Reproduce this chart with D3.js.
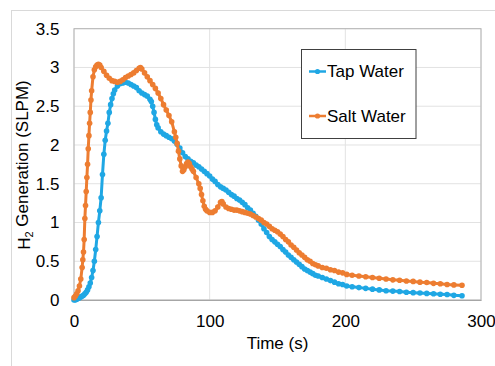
<!DOCTYPE html>
<html>
<head>
<meta charset="utf-8">
<script src="https://cdn.jsdelivr.net/npm/d3@7"></script>
<style>
  body { margin: 0; background: #fff; }
  text { font-family: "Liberation Sans", Arial, sans-serif; fill: #000; }
</style>
</head>
<body>
<div id="chart"></div>
<script>

// series (time in s, H2 in SLPM)
const tapTime = [0,1,2,3,4,5,6,7,8,9,10,11,12,13,14,15,16,17,18,19,20,21,22,23,24,25,26,27,28,29,30,32,34,36,38,40,42,44,46,48,50,52,54,56,57,58,59,60,61,62,64,66,68,70,72,74,76,78,80,82,84,86,88,90,92,94,96,98,100,102,104,106,108,110,112,114,116,118,120,122,124,126,128,130,132,134,136,138,140,142,144,146,148,150,152,154,156,158,160,162,164,166,168,170,172,174,176,178,180,183,186,189,192,195,198,201,205,210,215,220,225,230,235,240,245,250,255,260,265,270,275,280,286];
const tapValue = [0,0,0.01,0.02,0.03,0.04,0.05,0.06,0.08,0.1,0.13,0.17,0.22,0.29,0.38,0.5,0.65,0.82,1.0,1.15,1.32,1.62,1.88,2.06,2.18,2.28,2.42,2.52,2.6,2.66,2.71,2.76,2.79,2.8,2.81,2.8,2.78,2.76,2.74,2.7,2.67,2.65,2.63,2.59,2.56,2.5,2.42,2.33,2.26,2.22,2.17,2.14,2.12,2.1,2.08,2.05,2.01,1.96,1.9,1.85,1.82,1.79,1.77,1.74,1.72,1.69,1.66,1.63,1.6,1.56,1.53,1.49,1.46,1.44,1.42,1.39,1.36,1.34,1.31,1.29,1.26,1.23,1.19,1.16,1.12,1.08,1.03,0.98,0.92,0.87,0.82,0.78,0.75,0.72,0.69,0.65,0.62,0.58,0.55,0.52,0.49,0.46,0.43,0.4,0.38,0.36,0.34,0.32,0.31,0.29,0.27,0.25,0.23,0.21,0.2,0.18,0.17,0.16,0.15,0.14,0.13,0.12,0.115,0.11,0.1,0.095,0.09,0.085,0.08,0.075,0.07,0.06,0.055,0.05,0.04];

const saltTime = [0,1,2,3,4,5,6,6.5,7,7.5,8,8.5,9,9.5,10,10.5,11,11.5,12,12.5,13,14,15,16,17,18,19,20,22,24,26,28,30,32,34,36,38,40,42,44,46,48,49,50,52,54,56,58,60,62,64,66,68,70,72,74,75,76,77,78,79,80,81,82,83,84,85,86,87,88,90,92,93,94,95,96,97,98,100,102,104,106,108,109,110,112,114,116,118,120,122,124,126,128,130,132,134,136,138,140,142,144,146,148,150,152,154,156,158,160,162,164,166,168,170,172,174,176,178,180,183,186,189,192,195,198,201,205,210,215,220,225,230,235,240,245,250,255,260,265,270,275,280,286];
const saltValue = [0.03,0.05,0.08,0.12,0.18,0.27,0.42,0.52,0.62,0.78,1.05,1.22,1.4,1.58,1.75,1.95,2.12,2.28,2.42,2.58,2.7,2.88,2.97,3.01,3.03,3.04,3.03,3.0,2.95,2.9,2.86,2.83,2.82,2.81,2.82,2.84,2.87,2.89,2.91,2.93,2.96,2.99,3.0,2.98,2.93,2.88,2.83,2.78,2.73,2.67,2.6,2.52,2.45,2.38,2.3,2.17,2.1,2.02,1.92,1.82,1.73,1.66,1.68,1.72,1.76,1.78,1.76,1.72,1.69,1.66,1.58,1.5,1.44,1.36,1.28,1.21,1.17,1.15,1.13,1.13,1.15,1.2,1.26,1.27,1.24,1.2,1.18,1.17,1.16,1.16,1.15,1.14,1.13,1.12,1.11,1.09,1.07,1.05,1.03,1.0,0.98,0.95,0.92,0.9,0.88,0.85,0.82,0.78,0.75,0.71,0.68,0.645,0.61,0.58,0.55,0.52,0.5,0.47,0.455,0.44,0.42,0.41,0.39,0.38,0.36,0.35,0.33,0.32,0.31,0.3,0.29,0.28,0.27,0.26,0.255,0.245,0.24,0.23,0.225,0.215,0.21,0.2,0.195,0.19,0.18];

const xTicks = [0, 100, 200, 300];
const yTicks = [0, 0.5, 1, 1.5, 2, 2.5, 3, 3.5];
const seriesNames = ["Tap Water", "Salt Water"];
const seriesColors = ["#1FA7E4", "#ED7D31"];

var plot = { left: 74, top: 28.7, right: 481, bottom: 300 };

var svg = d3.select("#chart")
  .append("svg")
  .attr("width", 495)
  .attr("height", 366);

// chart area border
svg.append("rect")
  .attr("x", 11.5).attr("y", 10.5)
  .attr("width", 495).attr("height", 370)
  .attr("fill", "#fff")
  .attr("stroke", "#d9d9d9");

const x = d3.scaleLinear()
  .domain([0, 300])
  .range([plot.left, plot.right]);

const y = d3.scaleLinear()
  .domain([0, 3.5])
  .range([plot.bottom, plot.top]);

// gridlines
svg.append("g")
  .selectAll("line.h")
  .data(yTicks)
  .enter().append("line")
  .attr("x1", plot.left).attr("x2", plot.right)
  .attr("y1", d => y(d)).attr("y2", d => y(d))
  .attr("stroke", "#e2e2e2");

svg.append("g")
  .selectAll("line.v")
  .data(xTicks)
  .enter().append("line")
  .attr("x1", d => x(d)).attr("x2", d => x(d))
  .attr("y1", plot.top).attr("y2", plot.bottom)
  .attr("stroke", "#e2e2e2");

// plot area border
svg.append("rect")
  .attr("x", plot.left).attr("y", plot.top)
  .attr("width", plot.right - plot.left)
  .attr("height", plot.bottom - plot.top)
  .attr("fill", "none")
  .attr("stroke", "#b4b4b4");

// axes
const xAxis = svg.append("g")
  .attr("transform", `translate(0, ${plot.bottom})`)
  .call(d3.axisBottom(x).tickValues(xTicks).tickSize(0).tickPadding(15));
xAxis.select(".domain").attr("stroke", "#a6a6a6");
xAxis.selectAll(".tick > text")
  .style("font-family", '"Liberation Sans", Arial, sans-serif')
  .style("font-size", "17px")
  .attr("fill", "#000");

const yAxis = svg.append("g")
  .attr("transform", `translate(${plot.left}, 0)`)
  .call(d3.axisLeft(y).tickValues(yTicks).tickSize(0).tickPadding(14.5).tickFormat(d => String(d)));
yAxis.select(".domain").remove();
yAxis.selectAll(".tick > text")
  .style("font-family", '"Liberation Sans", Arial, sans-serif')
  .style("font-size", "17px")
  .attr("fill", "#000");

// series
const series = [
  tapTime.map((t, i) => ({ t: t, v: tapValue[i] })),
  saltTime.map((t, i) => ({ t: t, v: saltValue[i] }))
];

const line = d3.line()
  .x(d => x(d.t))
  .y(d => y(d.v));

series.forEach(function(data, k) {
  const g = svg.append("g");
  g.append("path")
    .datum(data)
    .attr("d", line)
    .attr("fill", "none")
    .attr("stroke", seriesColors[k])
    .attr("stroke-width", 3)
    .attr("stroke-linejoin", "round");
  g.selectAll("circle")
    .data(data)
    .enter().append("circle")
    .attr("cx", d => x(d.t))
    .attr("cy", d => y(d.v))
    .attr("r", 2.8)
    .attr("fill", seriesColors[k]);
});

// legend
const legend = svg.append("g");
legend.append("rect")
  .attr("x", 301.5).attr("y", 49.5)
  .attr("width", 114.5).attr("height", 89)
  .attr("fill", "#fff")
  .attr("stroke", "#404040");

const items = legend.selectAll("g.item")
  .data(seriesNames)
  .enter().append("g")
  .attr("transform", (d, i) => `translate(0, ${71.5 + i * 44.5})`);

items.append("line")
  .attr("x1", 309).attr("x2", 326)
  .attr("stroke", (d, i) => seriesColors[i])
  .attr("stroke-width", 2.5);
items.append("circle")
  .attr("cx", 317.5).attr("r", 2.6)
  .attr("fill", (d, i) => seriesColors[i]);
items.append("text")
  .attr("x", 327)
  .attr("dy", "0.35em")
  .style("font-size", "17px")
  .text(d => d);

// axis titles
svg.append("text")
  .attr("x", (plot.left + plot.right) / 2)
  .attr("y", 349)
  .attr("text-anchor", "middle")
  .style("font-size", "17px")
  .text("Time (s)");

const yTitle = svg.append("text")
  .attr("transform", "translate(29.5, 165) rotate(-90)")
  .attr("text-anchor", "middle")
  .style("font-size", "17px");
yTitle.append("tspan").text("H");
yTitle.append("tspan").attr("dy", "0.3em").style("font-size", "11px").text("2");
yTitle.append("tspan").attr("dy", "-0.3em").text(" Generation (SLPM)");

</script>
</body>
</html>
